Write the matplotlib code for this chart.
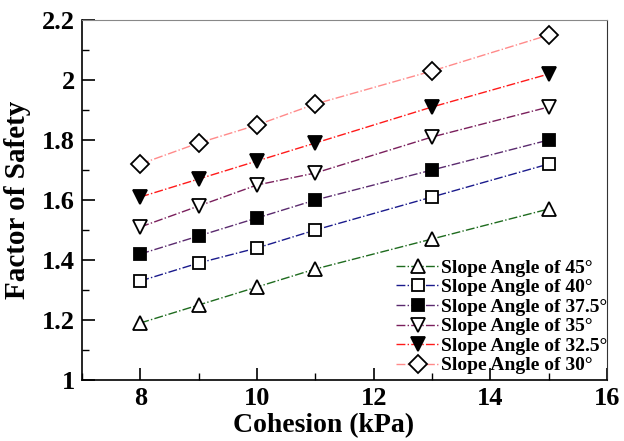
import matplotlib.pyplot as plt
from matplotlib.ticker import MultipleLocator

plt.rcParams['font.family'] = 'Liberation Serif'
plt.rcParams['font.weight'] = 'bold'

cohesion = [8, 9, 10, 11, 13, 15]
fs_45 = [1.19, 1.25, 1.31, 1.37, 1.47, 1.57]
fs_40 = [1.33, 1.39, 1.44, 1.50, 1.61, 1.72]
fs_375 = [1.42, 1.48, 1.54, 1.60, 1.70, 1.80]
fs_35 = [1.51, 1.58, 1.65, 1.69, 1.81, 1.91]
fs_325 = [1.61, 1.67, 1.73, 1.79, 1.91, 2.02]
fs_30 = [1.72, 1.79, 1.85, 1.92, 2.03, 2.15]

labels = ["Slope Angle of 45°", "Slope Angle of 40°", "Slope Angle of 37.5°",
          "Slope Angle of 35°", "Slope Angle of 32.5°", "Slope Angle of 30°"]
series = [fs_45, fs_40, fs_375, fs_35, fs_325, fs_30]
colors = ['#1e6b1e', '#1a1a8c', '#5a2a6e', '#7a1f5c', '#ff1a1a', '#ff8a8a']
markers = ['^', 's', 's', 'v', 'v', 'D']
fills = ['white', 'white', 'black', 'white', 'black', 'white']
sizes = [10, 9, 9, 10, 10, 9]

fig = plt.figure(figsize=(6.24, 4.41), dpi=100)
ax = fig.add_axes([82/624, 61/441, 525/624, 360/441])

for y, lab, c, m, f, s in zip(series, labels, colors, markers, fills, sizes):
    ax.plot(cohesion, y, linestyle='-.', color=c, linewidth=1.0,
            marker=m, markersize=s, markerfacecolor=f, markeredgecolor='black',
            markeredgewidth=1.3, label=lab)

ax.set_xlim(7, 16)
ax.set_ylim(1, 2.2)
ax.xaxis.set_major_locator(MultipleLocator(2))
ax.xaxis.set_minor_locator(MultipleLocator(1))
ax.yaxis.set_minor_locator(MultipleLocator(0.1))
ax.set_yticks([1, 1.2, 1.4, 1.6, 1.8, 2, 2.2])
ax.set_yticklabels(['1', '1.2', '1.4', '1.6', '1.8', '2', '2.2'])
ax.tick_params(which='major', direction='in', length=9, width=1.2, labelsize=19, pad=5)
ax.tick_params(which='minor', direction='in', length=5, width=1.0)
ax.tick_params(top=False, right=False, which='both')
ax.spines['top'].set_color('#888888')
ax.spines['right'].set_color('#333333')
for sp in ['left', 'bottom']:
    ax.spines[sp].set_linewidth(1.2)

ax.set_xlabel("Cohesion (kPa)", fontsize=20, fontweight='bold')
ax.xaxis.set_label_coords(0.46, -0.093)
ax.set_ylabel("Factor of Safety", fontsize=21, fontweight='bold', labelpad=8)

ax.legend(loc='lower right', bbox_to_anchor=(1.023, -0.017), frameon=False,
          handlelength=2.2, handletextpad=0.1, labelspacing=0.1, borderaxespad=0.2,
          prop={'weight': 'bold', 'size': 14})

plt.savefig("out.png", dpi=100)
plt.close()
